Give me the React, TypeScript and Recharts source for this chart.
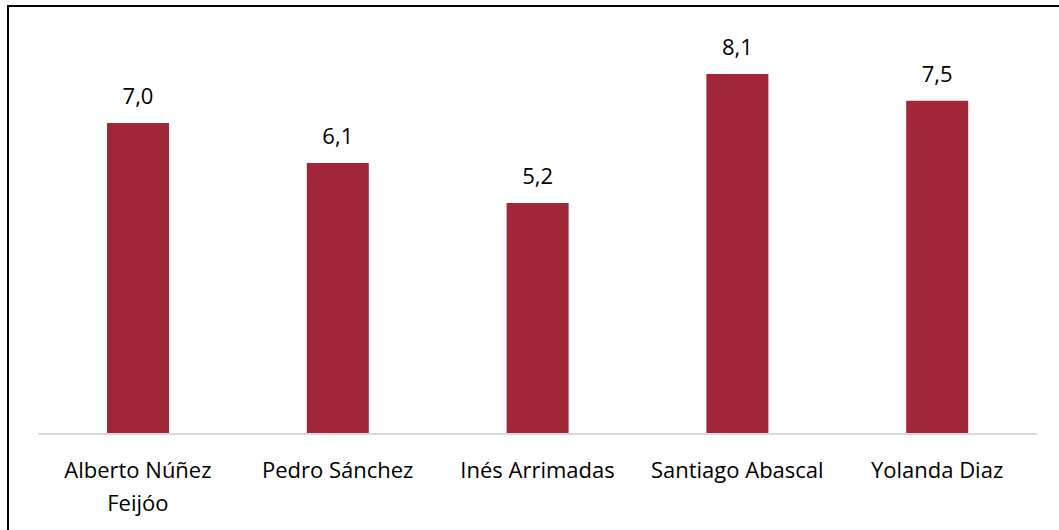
import React from "react";
import { BarChart, Bar, XAxis, YAxis, LabelList } from "recharts";

const candidates = [
  "Alberto Núñez Feijóo",
  "Pedro Sánchez",
  "Inés Arrimadas",
  "Santiago Abascal",
  "Yolanda Diaz",
];
const ratings = [7.0, 6.1, 5.2, 8.1, 7.5];

const data = candidates.map((name, i) => ({ name, value: ratings[i] }));

const FONT = "'Open Sans', sans-serif";

function CategoryTick(props: any) {
  const { x, y, payload } = props;
  const label: string = payload.value;
  // wrap only long names, like the original
  let lines = [label];
  if (label.length > 18) {
    const cut = label.lastIndexOf(" ");
    lines = [label.slice(0, cut), label.slice(cut + 1)];
  }
  return (
    <text
      x={x}
      y={y + 36}
      textAnchor="middle"
      fontFamily={FONT}
      fontSize={22}
      fill="#000"
    >
      {lines.map((l, i) => (
        <tspan key={i} x={x} dy={i === 0 ? 0 : 33}>
          {l}
        </tspan>
      ))}
    </text>
  );
}

export default function App() {
  return (
    <div
      style={{
        position: "absolute",
        left: 0,
        top: 0,
        width: 1059,
        height: 530,
        background: "#fff",
      }}
    >
      {/* frame: only the left and top edges show in the original crop */}
      <div
        style={{
          position: "absolute",
          left: 7,
          top: 5,
          width: 1060,
          height: 540,
          borderLeft: "2px solid #000",
          borderTop: "2px solid #000",
        }}
      />
      <div style={{ position: "absolute", left: 0, top: 0 }}>
        <BarChart
          width={1059}
          height={530}
          data={data}
          margin={{ top: 34, right: 22, left: 38, bottom: 0 }}
          barCategoryGap={69}
        >
          <XAxis
            dataKey="name"
            tick={<CategoryTick />}
            tickLine={false}
            axisLine={{ stroke: "#d9d9d9", strokeWidth: 2 }}
            interval={0}
            height={96}
          />
          <YAxis hide domain={[0, 9]} />
          <Bar dataKey="value" fill="#a12637" isAnimationActive={false}>
            <LabelList
              dataKey="value"
              position="top"
              offset={19}
              fontFamily={FONT}
              fontSize={22}
              fill="#000"
              formatter={(v: any) => Number(v).toFixed(1).replace(".", ",")}
            />
          </Bar>
        </BarChart>
      </div>
    </div>
  );
}
